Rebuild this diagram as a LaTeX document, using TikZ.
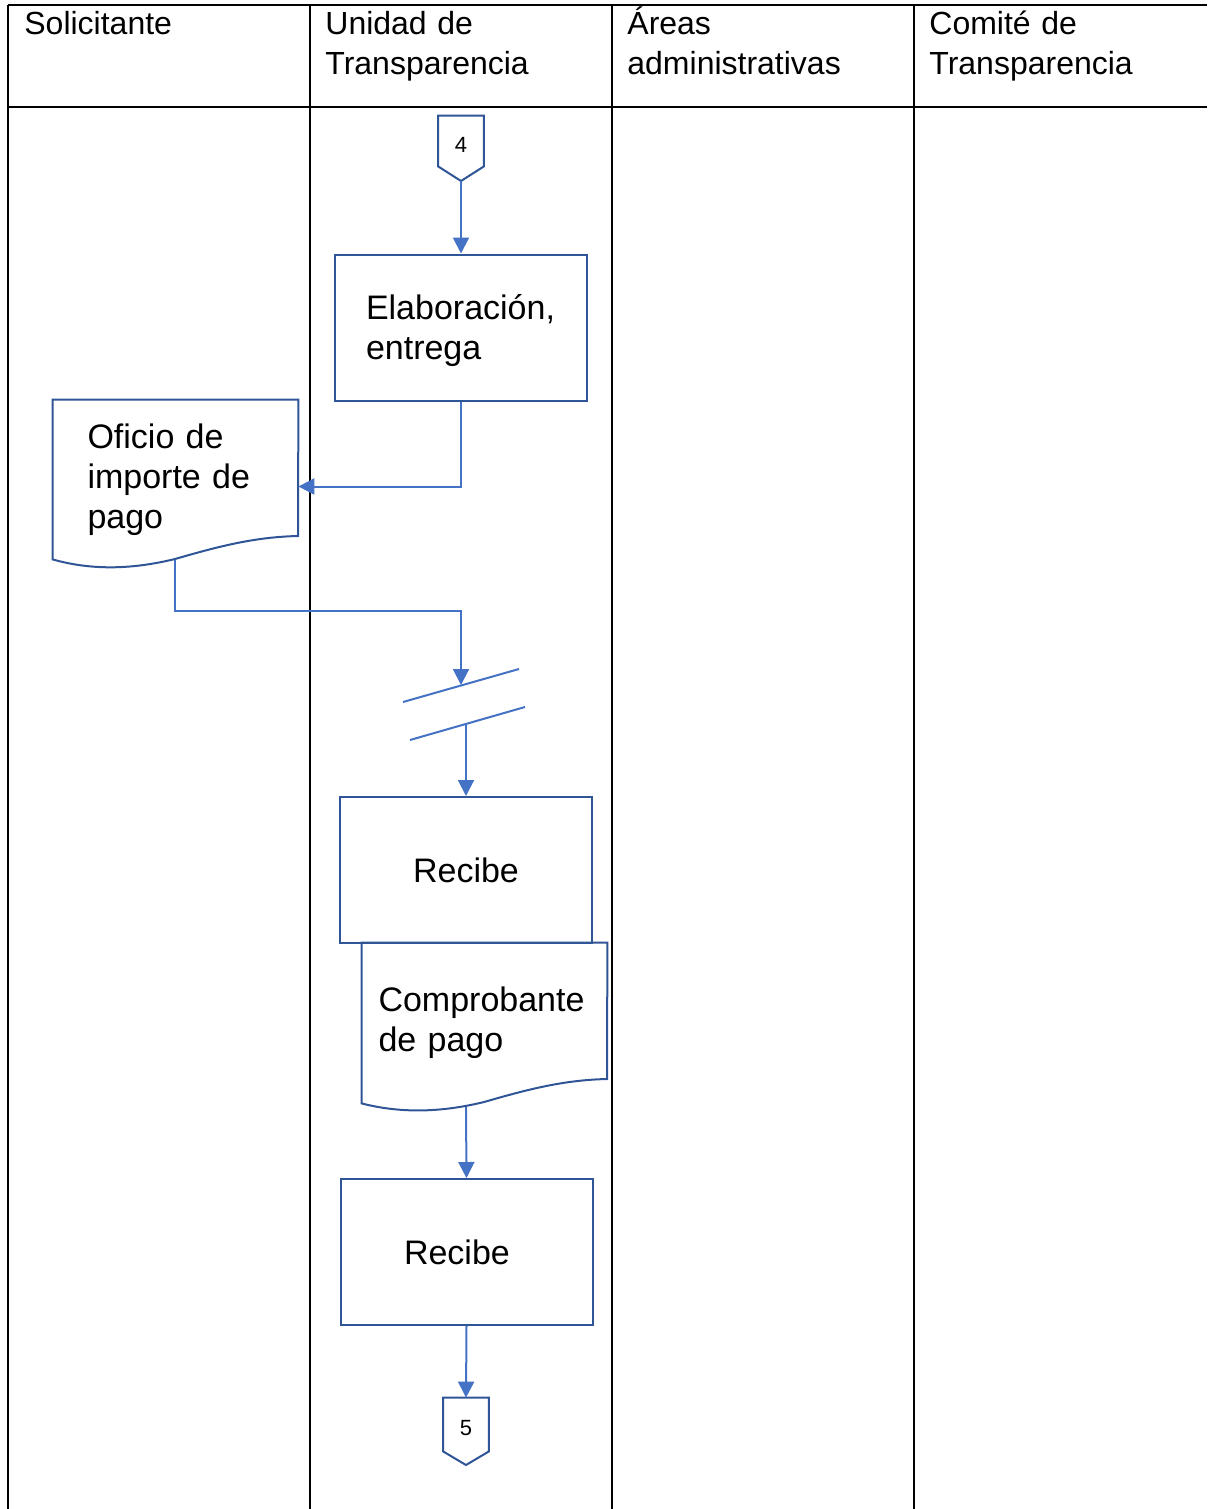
\documentclass[tikz,border=0pt]{standalone}
\usepackage{fontspec}
\setmainfont{Liberation Sans}
\usetikzlibrary{arrows.meta}
\definecolor{shapeblue}{RGB}{47,85,151}
\definecolor{lineblue}{RGB}{68,114,196}

\begin{document}
\begin{tikzpicture}[x=0.5pt, y=-0.5pt,
  header/.style={anchor=base west, inner sep=0pt, text width=135pt, align=left, font=\fontsize{16}{20}\selectfont},
  proc/.style={draw=shapeblue, line width=1pt, minimum width=126pt, minimum height=73pt, inner sep=0pt, font=\fontsize{17}{20}\selectfont},
  docu/.style={inner sep=0pt, align=left, minimum width=122.5pt, font=\fontsize{17}{20}\selectfont},
  offpage/.style={inner sep=0pt, minimum width=22.5pt, minimum height=25pt, text height=11pt, text depth=0pt, font=\fontsize{11}{13}\selectfont},
  outline/.style={draw=shapeblue, line width=1pt},
  flow/.style={draw=lineblue, line width=1pt, -{Triangle[length=8pt,width=8pt]}}]

\useasboundingbox (0,0) rectangle (1207,1509);

\draw[line width=1pt] (8,5) -- (1207,5);
\draw[line width=1pt] (8,107) -- (1207,107);
\foreach \x in {8,310,612,914} \draw[line width=1pt] (\x,5) -- (\x,1509);

\node[header] (hsol) at (24,35) {Solicitante};
\node[header] (hunidad) at (325,35) {Unidad de\\Transparencia};
\node[header] (hareas) at (627,35) {Áreas\\administrativas};
\node[header] (hcomite) at (929,35) {Comité de\\Transparencia};

\node[offpage] (c4) at (461,141) {4};
\coordinate (c4tip) at (461,181);
\draw[outline] (c4.north west) -- (c4.north east) -- (c4.south east) -- (c4tip) -- (c4.south west) -- cycle;

\node[proc, text width=95pt, align=left, text depth=20.5pt] (elab) at (461,327.5) {Elaboración,\\entrega};

\node[docu, text width=88pt, minimum height=79.5pt] (oficio) at (175.5,479.5) {Oficio de\\importe de\\pago};
\draw[outline] (oficio.south west) .. controls (90,570) and (130,570) .. (175,559) .. controls (220,546) and (255,537) .. (298,536) -- (oficio.north east) -- (oficio.north west) -- cycle;
\coordinate (oficiob) at (175,560);

\coordinate (brk1) at (461,685);
\coordinate (brk2) at (466,724);
\draw[lineblue, line width=1pt] (403,702) -- (519,669);
\draw[lineblue, line width=1pt] (410,740) -- (525,707);

\node[proc] (recibe1) at (466,870) {Recibe};

\node[docu, text width=106pt, minimum height=80pt] (comprob) at (484.5,1023) {Comprobante\\de pago};
\draw[outline] (comprob.south west) .. controls (399,1113) and (439,1113) .. (484,1102) .. controls (529,1089) and (564,1080) .. (607,1079) -- (comprob.north east) -- (comprob.north west) -- cycle;
\coordinate (comprobb) at (466,1107);

\node[proc, text width=62.5pt, align=left] (recibe2) at (466.5,1252) {Recibe};

\node[offpage, minimum height=26.5pt] (c5) at (466,1424.5) {5};
\coordinate (c5tip) at (466,1465);
\draw[outline] (c5.north west) -- (c5.north east) -- (c5.south east) -- (c5tip) -- (c5.south west) -- cycle;

\draw[flow] (c4tip) -- (elab.north);
\draw[flow] (elab.south) |- ([yshift=-3.5pt]oficio.east);
\draw[flow] (oficiob) -- ++(0,51) -| (brk1);
\draw[flow] (brk2) -- (recibe1.north);
\draw[flow] (comprobb) -- (recibe2.north);
\draw[flow] (recibe2.south) -- (c5.north);
\end{tikzpicture}
\end{document}
